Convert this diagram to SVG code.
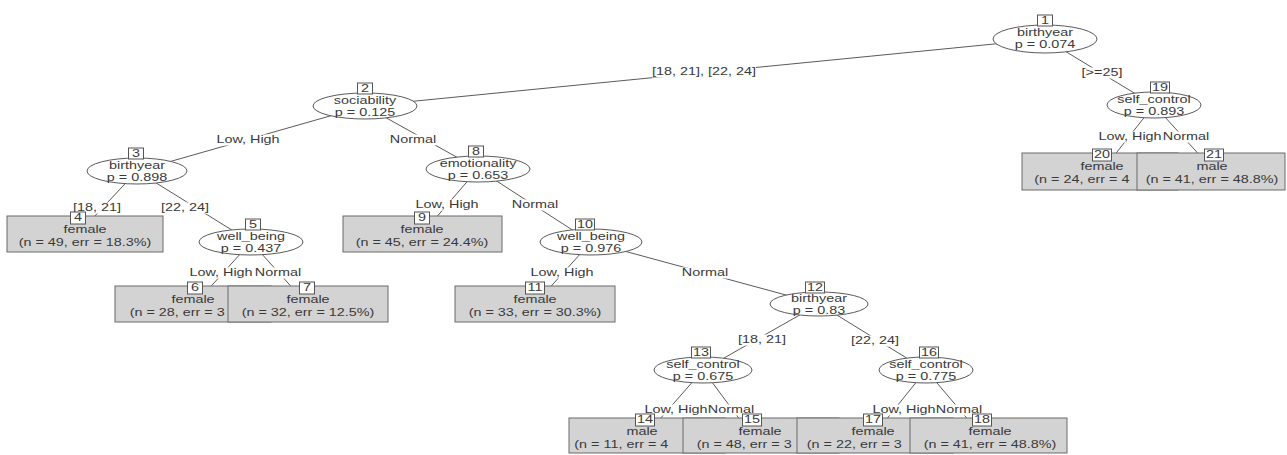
<svg xmlns="http://www.w3.org/2000/svg" width="1287" height="455" viewBox="0 0 1287 455">
<style>
text{font-family:"Liberation Sans",Arial,sans-serif;font-size:10px;fill:#3a3a3a;text-anchor:middle}
.ts{text-anchor:start}
.n ellipse{fill:#fff;stroke:#5a5a5a;stroke-width:1}
.term>rect.b{fill:#d3d3d3;stroke:#6a6a6a;stroke-width:1}
rect.id{fill:#fff;stroke:#555;stroke-width:1}
#edges line{stroke:#5a5a5a;stroke-width:1}
.lb rect{fill:#fff}
</style>
<rect width="1287" height="455" fill="#fff"/>
<g id="edges">
<line x1="1045" y1="39" x2="365" y2="106"/>
<line x1="1045" y1="39" x2="1154" y2="105"/>
<line x1="365" y1="106" x2="137" y2="171"/>
<line x1="365" y1="106" x2="478" y2="169"/>
<line x1="137" y1="171" x2="78" y2="234"/>
<line x1="137" y1="171" x2="251" y2="242"/>
<line x1="251" y1="242" x2="195" y2="304"/>
<line x1="251" y1="242" x2="307" y2="304"/>
<line x1="478" y1="169" x2="422" y2="234"/>
<line x1="478" y1="169" x2="591" y2="242"/>
<line x1="591" y1="242" x2="535" y2="304"/>
<line x1="591" y1="242" x2="819" y2="304"/>
<line x1="819" y1="304" x2="703" y2="370"/>
<line x1="819" y1="304" x2="926" y2="370"/>
<line x1="703" y1="370" x2="645" y2="436"/>
<line x1="703" y1="370" x2="752" y2="436"/>
<line x1="926" y1="370" x2="873" y2="436"/>
<line x1="926" y1="370" x2="982" y2="436"/>
<line x1="1154" y1="105" x2="1102" y2="171"/>
<line x1="1154" y1="105" x2="1214" y2="171"/>
<g class="lb" transform="translate(704,0)"><rect x="-52" y="66.5" width="104" height="11"/><g transform="scale(1.44,1)"><text y="75.5">[18, 21], [22, 24]</text></g></g>
<g class="lb" transform="translate(1102,0)"><rect x="-20.5" y="67.5" width="41" height="11"/><g transform="scale(1.44,1)"><text y="76.5">[&gt;=25]</text></g></g>
<g class="lb" transform="translate(248,0)"><rect x="-32" y="134.5" width="64" height="11"/><g transform="scale(1.44,1)"><text y="143.5">Low, High</text></g></g>
<g class="lb" transform="translate(413,0)"><rect x="-23" y="134.5" width="46" height="11"/><g transform="scale(1.44,1)"><text y="143.5">Normal</text></g></g>
<g class="lb" transform="translate(97,0)"><rect x="-24" y="202.5" width="48" height="11"/><g transform="scale(1.44,1)"><text y="211.5">[18, 21]</text></g></g>
<g class="lb" transform="translate(185,0)"><rect x="-24" y="202.5" width="48" height="11"/><g transform="scale(1.44,1)"><text y="211.5">[22, 24]</text></g></g>
<g class="lb" transform="translate(221,0)"><rect x="-32" y="267.5" width="64" height="11"/><g transform="scale(1.44,1)"><text y="276.5">Low, High</text></g></g>
<g class="lb" transform="translate(278,0)"><rect x="-23" y="267.5" width="46" height="11"/><g transform="scale(1.44,1)"><text y="276.5">Normal</text></g></g>
<g class="lb" transform="translate(447,0)"><rect x="-32" y="199.5" width="64" height="11"/><g transform="scale(1.44,1)"><text y="208.5">Low, High</text></g></g>
<g class="lb" transform="translate(535,0)"><rect x="-23" y="199.5" width="46" height="11"/><g transform="scale(1.44,1)"><text y="208.5">Normal</text></g></g>
<g class="lb" transform="translate(562,0)"><rect x="-32" y="267.5" width="64" height="11"/><g transform="scale(1.44,1)"><text y="276.5">Low, High</text></g></g>
<g class="lb" transform="translate(705,0)"><rect x="-23" y="267.5" width="46" height="11"/><g transform="scale(1.44,1)"><text y="276.5">Normal</text></g></g>
<g class="lb" transform="translate(762,0)"><rect x="-24" y="334.5" width="48" height="11"/><g transform="scale(1.44,1)"><text y="343.5">[18, 21]</text></g></g>
<g class="lb" transform="translate(875,0)"><rect x="-24" y="335.5" width="48" height="11"/><g transform="scale(1.44,1)"><text y="344.5">[22, 24]</text></g></g>
<g class="lb" transform="translate(676,0)"><rect x="-32" y="404.5" width="64" height="11"/><g transform="scale(1.44,1)"><text y="413.5">Low, High</text></g></g>
<g class="lb" transform="translate(731,0)"><rect x="-23" y="404.5" width="46" height="11"/><g transform="scale(1.44,1)"><text y="413.5">Normal</text></g></g>
<g class="lb" transform="translate(904,0)"><rect x="-32" y="404.5" width="64" height="11"/><g transform="scale(1.44,1)"><text y="413.5">Low, High</text></g></g>
<g class="lb" transform="translate(959,0)"><rect x="-23" y="404.5" width="46" height="11"/><g transform="scale(1.44,1)"><text y="413.5">Normal</text></g></g>
<g class="lb" transform="translate(1130,0)"><rect x="-32" y="131.5" width="64" height="11"/><g transform="scale(1.44,1)"><text y="140.5">Low, High</text></g></g>
<g class="lb" transform="translate(1186,0)"><rect x="-23" y="131.5" width="46" height="11"/><g transform="scale(1.44,1)"><text y="140.5">Normal</text></g></g>
</g>

<g id="node1" class="n"><ellipse cx="1045" cy="39" rx="52" ry="14"/><rect class="id" x="1037.5" y="15" width="15" height="11"/><g transform="translate(1045,0) scale(1.44,1)"><text y="24">1</text><text y="36.5">birthyear</text><text y="48.5">p = 0.074</text></g></g>
<g id="node2" class="n"><ellipse cx="365" cy="106" rx="52" ry="13"/><rect class="id" x="357.5" y="83" width="15" height="11"/><g transform="translate(365,0) scale(1.44,1)"><text y="92">2</text><text y="104">sociability</text><text y="116">p = 0.125</text></g></g>
<g id="node3" class="n"><ellipse cx="137" cy="171" rx="50" ry="13"/><rect class="id" x="128.5" y="148" width="15" height="11"/><g transform="translate(136,0) scale(1.44,1)"><text y="157">3</text></g><g transform="translate(137,0) scale(1.44,1)"><text y="169">birthyear</text><text y="181">p = 0.898</text></g></g>
<g id="node4" class="term"><rect class="b" x="7" y="216" width="156" height="36"/><rect class="id" x="70.5" y="212" width="15" height="12"/><g transform="translate(78,0) scale(1.44,1)"><text y="221.5">4</text></g><g transform="translate(85,0) scale(1.44,1)"><text y="233.5">female</text><text y="246.5">(n = 49, err = 18.3%)</text></g></g>
<g id="node5" class="n"><ellipse cx="251" cy="242" rx="52" ry="13"/><rect class="id" x="245.5" y="219" width="15" height="11"/><g transform="translate(253,0) scale(1.44,1)"><text y="228">5</text></g><g transform="translate(251,0) scale(1.44,1)"><text y="240">well_being</text><text y="252">p = 0.437</text></g></g>
<g id="node6" class="term"><rect class="b" x="115" y="286" width="156" height="36"/><rect class="id" x="187.5" y="282" width="15" height="12"/><g transform="translate(195,0) scale(1.44,1)"><text y="291.5">6</text></g><g transform="translate(193,0) scale(1.44,1)"><text y="303.5">female</text><text class="ts" x="-44" y="316.5">(n = 28, err = 3</text></g></g>
<g id="node7" class="term"><rect class="b" x="228" y="286" width="160" height="36"/><rect class="id" x="299.5" y="282" width="15" height="12"/><g transform="translate(307,0) scale(1.44,1)"><text y="291.5">7</text></g><g transform="translate(308,0) scale(1.44,1)"><text y="303.5">female</text><text y="316.5">(n = 32, err = 12.5%)</text></g></g>
<g id="node8" class="n"><ellipse cx="478" cy="169" rx="52" ry="13"/><rect class="id" x="468.5" y="146" width="15" height="11"/><g transform="translate(476,0) scale(1.44,1)"><text y="155">8</text></g><g transform="translate(478,0) scale(1.44,1)"><text y="167">emotionality</text><text y="179">p = 0.653</text></g></g>
<g id="node9" class="term"><rect class="b" x="343" y="216" width="159" height="36"/><rect class="id" x="414.5" y="212" width="15" height="12"/><g transform="translate(422,0) scale(1.44,1)"><text y="221.5">9</text><text y="233.5">female</text><text y="246.5">(n = 45, err = 24.4%)</text></g></g>
<g id="node10" class="n"><ellipse cx="591" cy="242" rx="51" ry="13"/><rect class="id" x="575.5" y="219" width="19" height="11"/><g transform="translate(585,0) scale(1.44,1)"><text y="228">10</text></g><g transform="translate(591,0) scale(1.44,1)"><text y="240">well_being</text><text y="252">p = 0.976</text></g></g>
<g id="node11" class="term"><rect class="b" x="455" y="286" width="160" height="36"/><rect class="id" x="525.5" y="282" width="19" height="12"/><g transform="translate(535,0) scale(1.44,1)"><text y="291.5">11</text><text y="303.5">female</text><text y="316.5">(n = 33, err = 30.3%)</text></g></g>
<g id="node12" class="n"><ellipse cx="819" cy="304" rx="49" ry="12"/><rect class="id" x="805.5" y="282" width="19" height="11"/><g transform="translate(815,0) scale(1.44,1)"><text y="291">12</text></g><g transform="translate(819,0) scale(1.44,1)"><text y="302">birthyear</text><text y="314">p = 0.83</text></g></g>
<g id="node13" class="n"><ellipse cx="703" cy="370" rx="49" ry="13"/><rect class="id" x="691.5" y="347" width="19" height="11"/><g transform="translate(701,0) scale(1.44,1)"><text y="356">13</text></g><g transform="translate(703,0) scale(1.44,1)"><text y="368">self_control</text><text y="380">p = 0.675</text></g></g>
<g id="node14" class="term"><rect class="b" x="569" y="418" width="156" height="35"/><rect class="id" x="635.5" y="414" width="19" height="12"/><g transform="translate(645,0) scale(1.44,1)"><text y="423.5">14</text></g><g transform="translate(642,0) scale(1.44,1)"><text y="435.5">male</text><text class="ts" x="-47" y="448.5">(n = 11, err = 4</text></g></g>
<g id="node15" class="term"><rect class="b" x="683" y="418" width="156" height="35"/><rect class="id" x="742.5" y="414" width="19" height="12"/><g transform="translate(752,0) scale(1.44,1)"><text y="423.5">15</text></g><g transform="translate(760,0) scale(1.44,1)"><text y="435.5">female</text><text class="ts" x="-44" y="448.5">(n = 48, err = 3</text></g></g>
<g id="node16" class="n"><ellipse cx="926" cy="370" rx="47" ry="13"/><rect class="id" x="919.5" y="347" width="19" height="11"/><g transform="translate(929,0) scale(1.44,1)"><text y="356">16</text></g><g transform="translate(926,0) scale(1.44,1)"><text y="368">self_control</text><text y="380">p = 0.775</text></g></g>
<g id="node17" class="term"><rect class="b" x="797" y="418" width="156" height="35"/><rect class="id" x="863.5" y="414" width="19" height="12"/><g transform="translate(873,0) scale(1.44,1)"><text y="423.5">17</text><text y="435.5">female</text><text class="ts" x="-46" y="448.5">(n = 22, err = 3</text></g></g>
<g id="node18" class="term"><rect class="b" x="910" y="418" width="157" height="35"/><rect class="id" x="972.5" y="414" width="19" height="12"/><g transform="translate(982,0) scale(1.44,1)"><text y="423.5">18</text></g><g transform="translate(990,0) scale(1.44,1)"><text y="435.5">female</text><text y="448.5">(n = 41, err = 48.8%)</text></g></g>
<g id="node19" class="n"><ellipse cx="1154" cy="105" rx="47" ry="13"/><rect class="id" x="1150.5" y="82" width="19" height="11"/><g transform="translate(1160,0) scale(1.44,1)"><text y="91">19</text></g><g transform="translate(1154,0) scale(1.44,1)"><text y="103">self_control</text><text y="115">p = 0.893</text></g></g>
<g id="node20" class="term"><rect class="b" x="1022" y="153" width="156" height="37"/><rect class="id" x="1092.5" y="149" width="19" height="12"/><g transform="translate(1102,0) scale(1.44,1)"><text y="158.5">20</text><text y="170.5">female</text><text class="ts" x="-47" y="183.5">(n = 24, err = 4</text></g></g>
<g id="node21" class="term"><rect class="b" x="1137" y="153" width="148" height="37"/><rect class="id" x="1204.5" y="149" width="19" height="12"/><g transform="translate(1214,0) scale(1.44,1)"><text y="158.5">21</text></g><g transform="translate(1212,0) scale(1.44,1)"><text y="170.5">male</text><text y="183.5">(n = 41, err = 48.8%)</text></g></g>
</svg>
